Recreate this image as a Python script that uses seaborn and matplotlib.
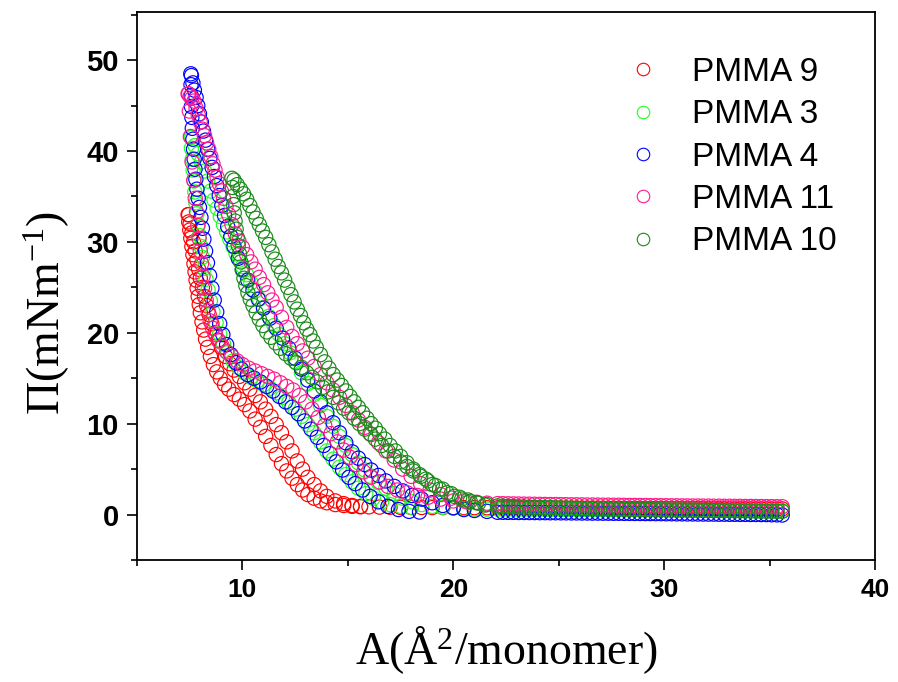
import numpy as np
import pandas as pd
import matplotlib
matplotlib.use('Agg')
import matplotlib.pyplot as plt
from matplotlib.lines import Line2D
from matplotlib.ticker import MultipleLocator
import seaborn as sns

# Isotherm loops (area in A^2/monomer, pressure in mN/m)
# each sample: compression branch (up), expansion branch (dn), common flat tail

# PMMA 9 (red)
a9_up = [7.45, 7.52, 7.6, 7.68, 7.76, 7.84, 7.92, 8.0, 8.1, 8.2, 8.3, 8.42, 8.55, 8.7, 8.85, 9.0,
         9.2, 9.4, 9.6, 9.85, 10.1, 10.35, 10.6, 10.85, 11.1, 11.35, 11.6, 11.85, 12.1, 12.35, 12.6, 12.85,
         13.1, 13.4, 13.7, 14.0, 14.4, 14.8, 15.2, 15.6, 16.0, 16.5, 17.0, 17.5, 18.0, 18.5, 19.0, 19.5,
         20.0, 20.5, 21.0, 21.6]
p9_up = [33, 32, 31, 30, 29, 28, 27, 26, 25, 24, 23, 22, 21, 20, 19.2, 18.4,
         17.4, 16.6, 15.9, 15.2, 14.5, 13.8, 13.1, 12.4, 11.6, 10.8, 9.9, 9.0, 8.0, 7.0, 5.9, 5.0,
         4.1, 3.3, 2.6, 2.0, 1.5, 1.2, 1.0, 0.9, 0.85, 0.82, 0.8, 0.79, 0.78, 0.78, 0.77, 0.77,
         0.76, 0.76, 0.76, 0.75]
a9_dn = [7.42, 7.45, 7.5, 7.55, 7.6, 7.65, 7.7, 7.75, 7.8, 7.85, 7.9, 7.95, 8.0, 8.08, 8.16, 8.25,
         8.35, 8.48, 8.62, 8.78, 8.95, 9.15, 9.35, 9.6, 9.85, 10.1, 10.35, 10.6, 10.85, 11.1, 11.35, 11.6,
         11.85, 12.1, 12.35, 12.6, 12.85, 13.1, 13.4, 13.7, 14.0, 14.4, 14.8, 15.2, 15.6]
p9_dn = [33, 32.2, 31.3, 30.4, 29.5, 28.6, 27.6, 26.7, 25.8, 24.9, 24.0, 23.1, 22.2, 21.2, 20.3, 19.3,
         18.4, 17.4, 16.5, 15.7, 15.0, 14.3, 13.8, 13.2, 12.7, 12.1, 11.4, 10.5, 9.6, 8.6, 7.6, 6.6,
         5.6, 4.8, 4.0, 3.3, 2.7, 2.2, 1.8, 1.5, 1.3, 1.1, 1.0, 0.9, 0.85]

# PMMA 3 (light green)
a3_up = [7.6, 7.75, 7.9, 8.05, 8.2, 8.35, 8.5, 8.65, 8.8, 8.95, 9.1, 9.25, 9.4, 9.55, 9.7, 9.85,
         10.0, 10.2, 10.4, 10.6, 10.8, 11.0, 11.25, 11.5, 11.75, 12.0, 12.25, 12.5, 12.8, 13.1, 13.4, 13.7,
         14.0, 14.3, 14.6, 14.9, 15.2, 15.5, 15.8, 16.1, 16.45, 16.8, 17.2, 17.6, 18.05, 18.5, 19.0, 19.5,
         20.0, 20.5, 21.0, 21.6]
p3_up = [41.5, 40.6, 39.7, 38.8, 37.8, 36.7, 35.6, 34.6, 33.7, 32.8, 31.9, 31.1, 30.3, 29.5, 28.7, 28.0,
         27.3, 26.4, 25.5, 24.6, 23.7, 22.8, 21.8, 20.8, 19.8, 18.8, 17.8, 16.8, 15.6, 14.4, 13.2, 12.0,
         10.8, 9.7, 8.6, 7.6, 6.6, 5.7, 4.9, 4.2, 3.5, 2.9, 2.3, 1.8, 1.4, 1.1, 0.9, 0.8,
         0.7, 0.65, 0.6, 0.6]
a3_dn = [7.55, 7.58, 7.62, 7.66, 7.7, 7.74, 7.79, 7.84, 7.9, 7.96, 8.03, 8.1, 8.18, 8.27, 8.37, 8.48,
         8.6, 8.75, 8.92, 9.1, 9.3, 9.55, 9.8, 10.1, 10.4, 10.7, 11.0, 11.3, 11.6, 11.9, 12.2, 12.5,
         12.8, 13.1, 13.4, 13.7, 14.0, 14.3, 14.6, 14.9, 15.2, 15.5, 15.85, 16.2, 16.6, 17.0, 17.5, 18.0]
p3_dn = [41.5, 40.3, 39.1, 37.9, 36.7, 35.5, 34.3, 33.1, 31.9, 30.7, 29.5, 28.3, 27.1, 25.9, 24.7, 23.5,
         22.3, 21.1, 19.9, 18.8, 17.8, 16.9, 16.2, 15.6, 15.1, 14.7, 14.3, 13.9, 13.4, 12.9, 12.3, 11.6,
         10.8, 9.9, 9.0, 8.0, 7.0, 6.1, 5.2, 4.4, 3.6, 2.9, 2.3, 1.8, 1.4, 1.1, 0.9, 0.8]

# PMMA 4 (blue)
a4_up = [7.58, 7.65, 7.72, 7.8, 7.88, 7.96, 8.05, 8.15, 8.25, 8.35, 8.45, 8.56, 8.67, 8.78, 8.9, 9.02,
         9.15, 9.3, 9.45, 9.6, 9.8, 10.0, 10.25, 10.5, 10.75, 11.0, 11.3, 11.6, 11.9, 12.2, 12.5, 12.8,
         13.1, 13.4, 13.7, 14.0, 14.3, 14.6, 14.9, 15.2, 15.5, 15.8, 16.1, 16.45, 16.8, 17.2, 17.6, 18.05,
         18.5, 19.0, 19.5, 20.0, 20.5, 21.0, 21.6]
p4_up = [48.3, 47.5, 46.7, 45.9, 45.0, 44.1, 43.2, 42.2, 41.2, 40.2, 39.2, 38.2, 37.2, 36.2, 35.1, 34.0,
         32.9, 31.7, 30.6, 29.5, 28.2, 27.0, 25.8, 24.7, 23.7, 22.7, 21.6, 20.5, 19.4, 18.3, 17.2, 16.0,
         14.8, 13.6, 12.4, 11.2, 10.1, 9.0, 7.9, 6.9, 6.2, 5.5, 4.9, 4.3, 3.7, 3.1, 2.6, 2.1,
         1.7, 1.3, 1.0, 0.75, 0.55, 0.45, 0.35]
a4_dn = [7.55, 7.56, 7.57, 7.58, 7.6, 7.62, 7.65, 7.68, 7.71, 7.75, 7.79, 7.84, 7.9, 7.96, 8.03, 8.1,
         8.17, 8.25, 8.34, 8.44, 8.55, 8.66, 8.78, 8.92, 9.07, 9.25, 9.45, 9.7, 9.95, 10.25, 10.55, 10.85,
         11.15, 11.45, 11.75, 12.05, 12.35, 12.65, 12.95, 13.25, 13.55, 13.85, 14.15, 14.45, 14.75, 15.05, 15.35, 15.7,
         16.05, 16.45, 16.9, 17.4, 17.9, 18.4]
p4_dn = [48.5, 47.3, 46.1, 44.9, 43.7, 42.5, 41.3, 40.2, 39.1, 38.0, 36.9, 35.8, 34.8, 33.8, 32.7, 31.5,
         30.3, 29.0, 27.7, 26.3, 24.9, 23.6, 22.3, 21.0, 19.8, 18.7, 17.6, 16.7, 16.0, 15.4, 15.0, 14.6,
         14.1, 13.6, 13.0, 12.4, 11.8, 11.1, 10.3, 9.4, 8.5, 7.6, 6.7, 5.8, 4.9, 4.1, 3.4, 2.7,
         2.0, 1.4, 0.9, 0.55, 0.35, 0.28]

# PMMA 11 (pink)
a11_up = [7.45, 7.52, 7.6, 7.7, 7.8, 7.9, 8.0, 8.1, 8.2, 8.3, 8.4, 8.5, 8.6, 8.7, 8.8, 8.9,
          9.0, 9.1, 9.22, 9.35, 9.5, 9.66, 9.83, 10.0, 10.2, 10.4, 10.6, 10.8, 11.0, 11.2, 11.4, 11.6,
          11.85, 12.1, 12.35, 12.6, 12.85, 13.1, 13.4, 13.7, 14.0, 14.3, 14.6, 14.9, 15.2, 15.5, 15.8, 16.1,
          16.45, 16.8, 17.2, 17.6, 18.0, 18.45, 18.9, 19.4, 19.9, 20.5, 21.1, 21.6]
p11_up = [46.3, 46.0, 45.8, 45.5, 44.7, 44.0, 43.2, 42.4, 41.7, 40.9, 40.2, 39.4, 38.6, 37.9, 37.1, 36.4,
          35.6, 34.8, 33.9, 33.0, 31.9, 30.9, 30.1, 29.4, 28.6, 27.8, 27.0, 26.1, 25.3, 24.4, 23.6, 22.8,
          21.7, 20.6, 19.6, 18.8, 18.0, 17.2, 16.3, 15.4, 14.5, 13.7, 12.9, 12.0, 11.2, 10.4, 9.6, 8.8,
          7.9, 7.0, 6.0, 5.0, 4.2, 3.4, 2.7, 2.2, 1.8, 1.5, 1.35, 1.25]
a11_dn = [7.42, 7.48, 7.53, 7.61, 7.69, 7.76, 7.82, 7.88, 7.94, 8.0, 8.06, 8.13, 8.2, 8.28, 8.37, 8.47,
          8.58, 8.72, 8.88, 9.05, 9.25, 9.5, 9.75, 10.0, 10.3, 10.6, 10.9, 11.2, 11.5, 11.8, 12.1, 12.4,
          12.7, 13.0, 13.3, 13.6, 13.9, 14.2, 14.5, 14.8, 15.1, 15.4, 15.75, 16.1, 16.5, 16.9, 17.35, 17.8,
          18.3, 18.8, 19.4, 20.0, 20.7]
p11_dn = [46.3, 44.4, 41.6, 38.8, 36.8, 34.8, 33.3, 31.8, 30.4, 29.0, 27.6, 26.2, 24.9, 23.6, 22.4, 21.3,
          20.5, 19.8, 19.1, 18.5, 17.9, 17.4, 16.9, 16.5, 16.1, 15.8, 15.5, 15.2, 14.9, 14.5, 14.1, 13.7,
          13.1, 12.4, 11.6, 10.7, 9.8, 8.9, 8.0, 7.1, 6.3, 5.5, 4.7, 4.1, 3.6, 3.1, 2.7, 2.4,
          2.1, 1.9, 1.7, 1.5, 1.35]

# PMMA 10 (dark green)
a10_up = [9.6, 9.75, 9.9, 10.05, 10.2, 10.35, 10.5, 10.65, 10.8, 10.95, 11.1, 11.25, 11.4, 11.55, 11.7, 11.85,
          12.0, 12.15, 12.3, 12.45, 12.6, 12.75, 12.9, 13.05, 13.2, 13.35, 13.5, 13.7, 13.9, 14.1, 14.3, 14.5,
          14.7, 14.9, 15.1, 15.3, 15.5, 15.7, 15.9, 16.1, 16.3, 16.5, 16.75, 17.0, 17.25, 17.5, 17.8, 18.1,
          18.4, 18.7, 19.0, 19.35, 19.7, 20.05, 20.4, 20.8, 21.2, 21.6]
p10_up = [36.8, 36.3, 35.8, 35.3, 34.7, 34.0, 33.3, 32.6, 31.9, 31.2, 30.5, 29.7, 28.9, 28.1, 27.3, 26.6,
          25.8, 25.0, 24.2, 23.4, 22.6, 21.9, 21.1, 20.4, 19.8, 19.1, 18.4, 17.6, 16.8, 16.1, 15.4, 14.8,
          14.2, 13.6, 13.0, 12.4, 11.8, 11.2, 10.6, 10.0, 9.5, 8.9, 8.3, 7.6, 7.0, 6.4, 5.7, 5.0,
          4.4, 3.9, 3.3, 2.8, 2.4, 2.0, 1.7, 1.45, 1.25, 1.1]
a10_dn = [9.5, 9.52, 9.55, 9.58, 9.61, 9.65, 9.7, 9.75, 9.8, 9.86, 9.92, 9.99, 10.07, 10.16, 10.26, 10.37,
          10.5, 10.65, 10.8, 10.97, 11.15, 11.35, 11.57, 11.8, 12.05, 12.3, 12.55, 12.8, 13.05, 13.3, 13.55, 13.8,
          14.05, 14.3, 14.55, 14.8, 15.05, 15.3, 15.55, 15.8, 16.05, 16.3, 16.6, 16.9, 17.2, 17.5, 17.8, 18.1,
          18.45, 18.8, 19.15, 19.5, 19.9, 20.3, 20.7, 21.1, 21.5]
p10_dn = [37.0, 36.0, 35.0, 34.1, 33.2, 32.3, 31.4, 30.5, 29.6, 28.7, 27.8, 26.9, 26.0, 25.2, 24.4, 23.7,
          23.0, 22.2, 21.5, 20.8, 20.1, 19.5, 18.9, 18.3, 17.7, 17.2, 16.7, 16.2, 15.6, 15.1, 14.6, 14.0,
          13.5, 12.9, 12.3, 11.7, 11.2, 10.6, 10.0, 9.4, 8.9, 8.3, 7.6, 7.0, 6.4, 5.8, 5.3, 4.8,
          4.2, 3.7, 3.2, 2.8, 2.3, 1.9, 1.6, 1.3, 1.05]

# flat part at large area, same areas for every sample
tail_area = [22.1, 22.35, 22.6, 22.85, 23.1, 23.35, 23.6, 23.85, 24.1, 24.35, 24.6, 24.85,
             25.1, 25.35, 25.6, 25.85, 26.1, 26.35, 26.6, 26.85, 27.1, 27.35, 27.6, 27.85,
             28.1, 28.35, 28.6, 28.85, 29.1, 29.35, 29.6, 29.85, 30.1, 30.35, 30.6, 30.85,
             31.1, 31.35, 31.6, 31.85, 32.1, 32.35, 32.6, 32.85, 33.1, 33.35, 33.6, 33.85,
             34.1, 34.35, 34.6, 34.85, 35.1, 35.35, 35.6]
p9_tail = [0.75, 0.75, 0.75, 0.75, 0.74, 0.74, 0.74, 0.74, 0.73, 0.73, 0.73, 0.73,
           0.72, 0.72, 0.72, 0.72, 0.71, 0.71, 0.71, 0.71, 0.70, 0.70, 0.70, 0.70,
           0.69, 0.69, 0.69, 0.69, 0.68, 0.68, 0.68, 0.68, 0.67, 0.67, 0.67, 0.67,
           0.66, 0.66, 0.66, 0.66, 0.65, 0.65, 0.65, 0.65, 0.64, 0.64, 0.64, 0.64,
           0.63, 0.63, 0.63, 0.63, 0.62, 0.62, 0.62]
p3_tail = [0.6, 0.6, 0.6, 0.59, 0.59, 0.59, 0.58, 0.58, 0.58, 0.57, 0.57, 0.57,
           0.56, 0.56, 0.56, 0.55, 0.55, 0.55, 0.54, 0.54, 0.54, 0.53, 0.53, 0.53,
           0.52, 0.52, 0.52, 0.51, 0.51, 0.51, 0.5, 0.5, 0.5, 0.49, 0.49, 0.49,
           0.48, 0.48, 0.48, 0.47, 0.47, 0.47, 0.46, 0.46, 0.46, 0.45, 0.45, 0.45,
           0.44, 0.44, 0.44, 0.43, 0.43, 0.43, 0.42]
p4_tail = [0.25, 0.25, 0.24, 0.24, 0.23, 0.23, 0.22, 0.22, 0.21, 0.21, 0.2, 0.2,
           0.19, 0.19, 0.18, 0.18, 0.17, 0.17, 0.16, 0.16, 0.15, 0.15, 0.14, 0.14,
           0.13, 0.13, 0.12, 0.12, 0.11, 0.11, 0.1, 0.1, 0.09, 0.09, 0.08, 0.08,
           0.07, 0.07, 0.06, 0.06, 0.05, 0.05, 0.04, 0.04, 0.03, 0.03, 0.02, 0.02,
           0.01, 0.01, 0.0, 0.0, -0.02, -0.03, -0.05]
p11_tail = [1.2, 1.19, 1.18, 1.17, 1.16, 1.15, 1.14, 1.13, 1.12, 1.11, 1.1, 1.1,
            1.09, 1.08, 1.07, 1.07, 1.06, 1.05, 1.05, 1.04, 1.03, 1.03, 1.02, 1.02,
            1.01, 1.0, 1.0, 0.99, 0.99, 0.98, 0.98, 0.97, 0.97, 0.96, 0.96, 0.95,
            0.95, 0.94, 0.94, 0.93, 0.93, 0.92, 0.92, 0.91, 0.91, 0.9, 0.9, 0.89,
            0.89, 0.88, 0.88, 0.87, 0.87, 0.86, 0.86]
p10_tail = [0.95, 0.92, 0.9, 0.88, 0.86, 0.84, 0.82, 0.8, 0.79, 0.77, 0.76, 0.74,
            0.73, 0.71, 0.7, 0.68, 0.67, 0.66, 0.65, 0.64, 0.63, 0.62, 0.61, 0.6,
            0.59, 0.58, 0.57, 0.56, 0.55, 0.54, 0.53, 0.52, 0.51, 0.5, 0.5, 0.49,
            0.48, 0.47, 0.47, 0.46, 0.45, 0.44, 0.44, 0.43, 0.42, 0.41, 0.41, 0.4,
            0.39, 0.38, 0.38, 0.37, 0.36, 0.36, 0.35]

samples = ['PMMA 9', 'PMMA 3', 'PMMA 4', 'PMMA 11', 'PMMA 10']
colors = ['#FF0000', '#1EFF1E', '#0000FF', '#FF1A8C', '#1A8A1A']

branches = {
    'PMMA 9': [(a9_up, p9_up), (a9_dn, p9_dn), (tail_area, p9_tail)],
    'PMMA 3': [(a3_up, p3_up), (a3_dn, p3_dn), (tail_area, p3_tail)],
    'PMMA 4': [(a4_up, p4_up), (a4_dn, p4_dn), (tail_area, p4_tail)],
    'PMMA 11': [(a11_up, p11_up), (a11_dn, p11_dn), (tail_area, p11_tail)],
    'PMMA 10': [(a10_up, p10_up), (a10_dn, p10_dn), (tail_area, p10_tail)],
}

frames = []
for s in samples:
    for a, p in branches[s]:
        frames.append(pd.DataFrame({'area': a, 'pressure': p, 'sample': s}))
df = pd.concat(frames, ignore_index=True)

sns.set_style('ticks')
plt.rcParams['font.family'] = ['Liberation Sans', 'DejaVu Sans']
plt.rcParams['mathtext.fontset'] = 'custom'
plt.rcParams['mathtext.rm'] = 'Liberation Serif'
plt.rcParams['mathtext.it'] = 'Liberation Serif:italic'
plt.rcParams['text.color'] = 'black'
plt.rcParams['axes.labelcolor'] = 'black'
plt.rcParams['xtick.color'] = 'black'
plt.rcParams['ytick.color'] = 'black'

fig, ax = plt.subplots(figsize=(8.98, 6.82), dpi=100)
fig.subplots_adjust(left=0.1526, right=0.9744, top=0.9824, bottom=0.1789)

# open circles, drawn sample by sample so the last one sits on top
for s, c in zip(samples, colors):
    sub = df[df['sample'] == s]
    sns.scatterplot(data=sub, x='area', y='pressure', ax=ax, s=105, marker='o',
                    color=c, facecolors='none', edgecolor=c, linewidth=0.85, legend=False)
    ax.collections[-1].set_facecolor('none')
    ax.collections[-1].set_edgecolor(c)

ax.set_xlim(5, 40)
ax.set_ylim(-5, 55.3)
ax.xaxis.set_major_locator(MultipleLocator(10))
ax.xaxis.set_minor_locator(MultipleLocator(5))
ax.yaxis.set_major_locator(MultipleLocator(10))
ax.yaxis.set_minor_locator(MultipleLocator(5))
ax.tick_params(which='major', direction='out', length=7, width=1.2, pad=6,
               top=False, right=False, colors='black')
ax.tick_params(which='minor', direction='out', length=4, width=1.2, top=False, right=False,
               colors='black')
ax.tick_params(axis='x', labelsize=19)
ax.tick_params(axis='y', labelsize=21)
for lbl in ax.get_xticklabels() + ax.get_yticklabels():
    lbl.set_fontweight('bold')
for sp in ax.spines.values():
    sp.set_linewidth(1.3)
    sp.set_color('black')

ax.set_xlabel('A(Å$^{2}$/monomer)', fontsize=33, family='Liberation Serif', labelpad=16)
ax.set_ylabel('Π(mNm$^{-1}$)', fontsize=33, family='Liberation Serif')
ax.yaxis.set_label_coords(-0.088, 0.45)

handles = [Line2D([], [], marker='o', linestyle='none', markerfacecolor='none',
                  markeredgecolor=c, markersize=9, markeredgewidth=0.8) for c in colors]
ax.legend(handles, samples, loc='upper left', bbox_to_anchor=(0.669, 0.918), frameon=False,
          fontsize=24, handlelength=0.75, handletextpad=1.1, labelspacing=0.34,
          borderaxespad=0, borderpad=0)

fig.savefig('out.png', dpi=100)
